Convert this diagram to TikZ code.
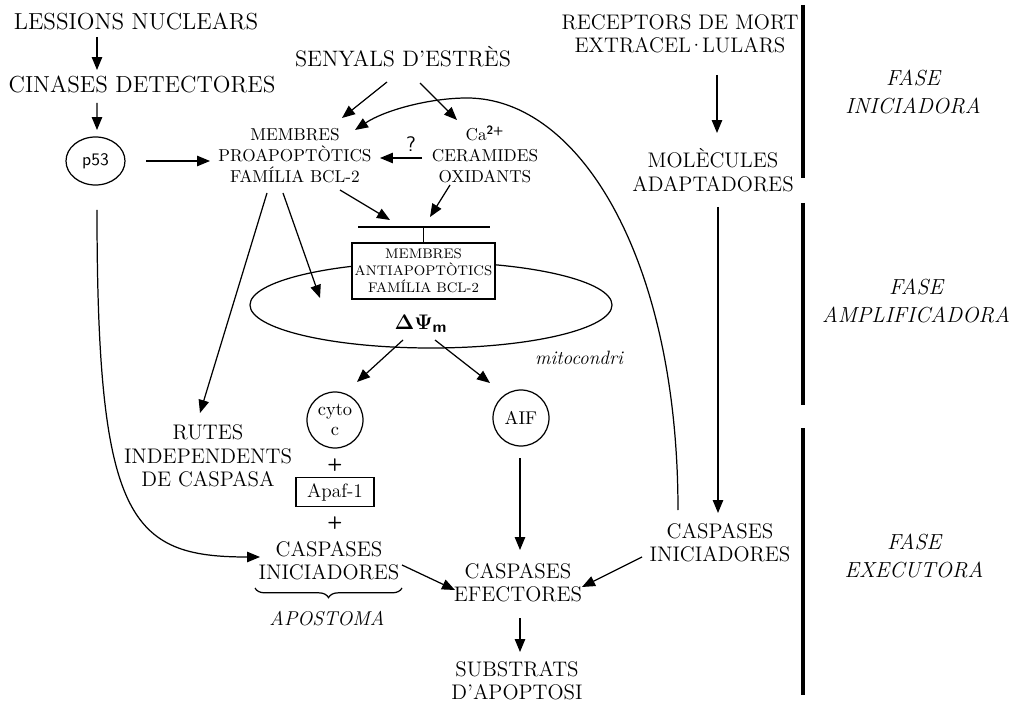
\documentclass[tikz,border=0pt]{standalone}
\usepackage{fontspec}
\usepackage{amsmath}
\usepackage{amssymb}
\usetikzlibrary{calc, positioning}
\usetikzlibrary{arrows.meta}
\usetikzlibrary{shapes.geometric}
\usetikzlibrary{decorations.pathreplacing}

\tikzset{
  arr/.style={-{Stealth[length=2.6mm, width=2.1mm, inset=0pt]}},
  biglbl/.style={align=center, inner sep=1pt, font=\fontsize{12}{13.3}\selectfont},
  toplbl/.style={align=center, inner sep=1pt, font=\fontsize{13.2}{14}\selectfont},
  smalllbl/.style={align=center, inner sep=1pt, font=\fontsize{9.8}{11.9}\selectfont},
  boxlbl/.style={draw, fill=white, align=center, inner sep=1pt, font=\fontsize{7.9}{9.6}\selectfont},
  faselbl/.style={align=center, font=\fontsize{12.4}{15.9}\selectfont\itshape},
  phasebar/.style={line width=2.6pt}
}

\begin{document}
\begin{tikzpicture}[x=0.02cm, y=-0.02cm, line width=0.7pt]
\def\px{0.02cm}
\useasboundingbox (0,0) rectangle (1019,706);

\node[toplbl] (lesions) at (136,21) {LESSIONS NUCLEARS};
\node[toplbl] (cinases) at (142,84) {CINASES DETECTORES};
\node[draw, ellipse, inner sep=0pt, minimum width=59*\px, minimum height=48*\px,
  font=\sffamily\fontsize{10}{12}\selectfont] (p53) at (95.5,161) {p53};
\node[toplbl, font=\fontsize{12.7}{14}\selectfont] (senyals) at (403,57) {SENYALS D’ESTRÈS};
\node[smalllbl] (proapo) at (295,156) {MEMBRES\\PROAPOPTÒTICS\\FAMÍLIA BCL-2};
\node[smalllbl] (ca) at (485,154)
  {Ca\textsuperscript{\sffamily\bfseries 2+}\\CERAMIDES\\OXIDANTS};
\node[font=\sffamily\fontsize{12}{14}\selectfont] (qmark) at (411,144) {?};

\node[draw, ellipse, minimum width=362*\px, minimum height=86*\px] (mito) at (431,305) {};
\node[boxlbl, minimum width=143*\px, minimum height=56*\px] (antiapo) at (423.5,271)
  {MEMBRES\\ANTIAPOPTÒTICS\\FAMÍLIA BCL-2};
\node[font=\fontsize{13}{15}\selectfont] (dpsi) at (421,324)
  {$\boldsymbol{\Delta\Psi}_{\textsf{\textbf{m}}}$};
\node[font=\fontsize{11}{13}\selectfont\itshape] (mitolbl) at (579,358) {mitocondri};

\node[draw, circle, inner sep=0pt, minimum size=56*\px, align=center,
  font=\fontsize{10.5}{11.5}\selectfont] (cyto) at (335,420) {cyto\\c};
\node[draw, circle, inner sep=0pt, minimum size=56*\px,
  font=\fontsize{10.5}{12}\selectfont] (aif) at (521,418) {AIF};
\node[font=\sffamily\bfseries\fontsize{10}{12}\selectfont] (plusA) at (335,465) {+};
\node[draw, inner sep=0pt, minimum width=78*\px, minimum height=29*\px,
  font=\fontsize{11}{13}\selectfont] (apaf) at (335,492) {Apaf-1};
\node[font=\sffamily\bfseries\fontsize{10}{12}\selectfont] (plusB) at (335,523) {+};
\node[biglbl] (casini) at (329,561) {CASPASES\\INICIADORES};
\node[font=\fontsize{11.4}{13}\selectfont\itshape] (apostoma) at (327,619) {APOSTOMA};
\node[biglbl] (caseff) at (518,583) {CASPASES\\EFECTORES};
\node[biglbl] (substr) at (517,681) {SUBSTRATS\\D’APOPTOSI};
\node[biglbl] (rutes) at (208,456) {RUTES\\INDEPENDENTS\\DE CASPASA};

\node[biglbl] (receptors) at (680,34)
  {RECEPTORS DE MORT\\EXTRACEL\kern-0.12em·\kern-0.12em LULARS};
\node[biglbl] (adapt) at (713,170) {MOLÈCULES\\ADAPTADORES};
\node[biglbl] (casiniR) at (720,543) {CASPASES\\INICIADORES};

\node[faselbl] (faseIni) at (913,92) {FASE\\INICIADORA};
\node[faselbl] (faseAmp) at (916,301) {FASE\\AMPLIFICADORA};
\node[faselbl] (faseExe) at (914,556) {FASE\\EXECUTORA};

\coordinate (tbar) at ($(antiapo)+(0,-44)$);
\coordinate (arcTop) at (467,98);

\draw[arr] ($(lesions)+(-39,16)$) -- ($(cinases)+(-45,-14)$);
\draw[arr] ($(cinases)+(-45,19)$) -- ($(p53)+(1.5,-31)$);
\draw[arr] ($(p53)+(50.5,0)$) -- ($(proapo)+(-85,5)$);
\draw[arr] ($(senyals)+(-16,25)$) -- ($(proapo)+(47,-38)$);
\draw[arr] ($(senyals)+(17,26)$) -- ($(ca)+(-28,-34)$);
\draw[arr] ($(ca)+(-63,4)$) -- ($(proapo)+(85,2)$);
\draw[arr] ($(casiniR)+(-42,-33)$) .. controls +(0,-250) and +(113,0) .. (arcTop)
  .. controls +(-37,0) and +(30,-20) .. ($(proapo)+(60,-26)$);

\draw[arr] ($(proapo)+(45,34)$) -- ($(tbar)+(-33.5,-7)$);
\draw[arr] ($(ca)+(-35,31)$) -- ($(tbar)+(6.5,-10)$);
\draw ($(tbar)+(-65.5,0)$) -- ($(tbar)+(66.5,0)$);
\draw (tbar) -- (antiapo.north);
\draw[arr] ($(proapo)+(-12,37)$) -- ($(mito)+(-111,-7)$);
\draw[arr] ($(proapo)+(-28,37)$) -- ($(rutes)+(-8,-43)$);

\draw[arr] ($(dpsi)+(-18,16)$) -- ($(cyto)+(22,-38)$);
\draw[arr] ($(dpsi)+(14,16)$) -- ($(aif)+(-31,-35)$);
\draw[arr] ($(aif)+(-1,40)$) -- ($(caseff)+(2,-33)$);
\draw[arr] ($(casini)+(73,4)$) -- ($(caseff)+(-63,7)$);
\draw[arr] ($(casiniR)+(-78,14)$) -- ($(caseff)+(64,4)$);
\draw[arr] ($(caseff)+(2,35)$) -- ($(substr)+(3,-29)$);
\draw[arr] ($(receptors)+(37,41)$) -- ($(adapt)+(4,-37)$);
\draw[arr] ($(adapt)+(5,37)$) -- ($(casiniR)+(-2,-30)$);
\draw[arr] ($(p53)+(1.5,49)$) .. controls +(0,310) and +(-130,0) .. ($(casini)+(-69,-4)$);

\draw[decorate, decoration={brace, amplitude=5.5pt}]
  ($(casini)+(73,27)$) -- ($(casini)+(-74,27)$);

\draw[phasebar] (803,5) -- (803,178);
\draw[phasebar] (803,203) -- (803,405);
\draw[phasebar] (803,428) -- (803,695);
\end{tikzpicture}
\end{document}
